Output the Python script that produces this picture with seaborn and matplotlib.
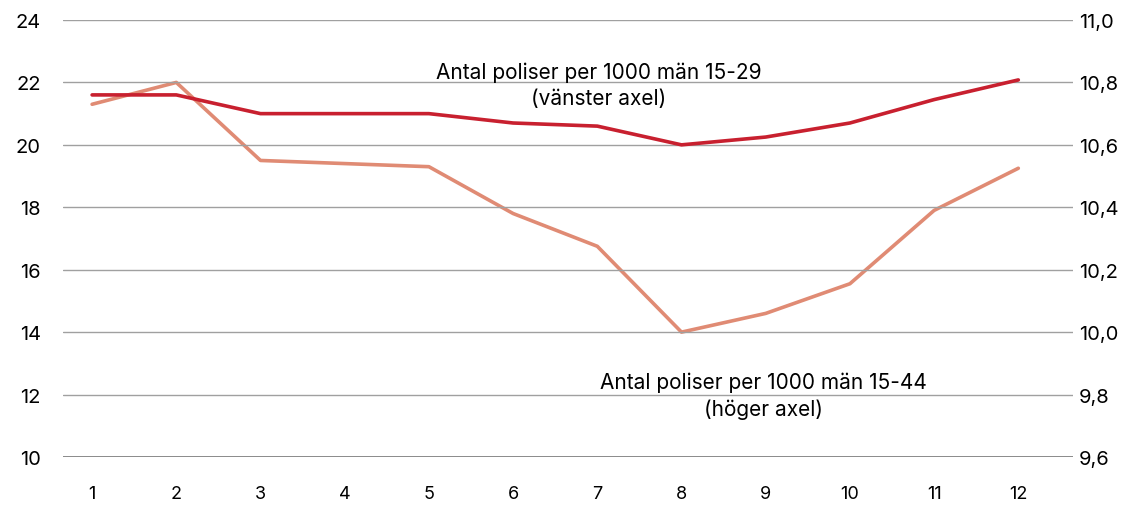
import numpy as np
import pandas as pd
import matplotlib
matplotlib.use('Agg')
import matplotlib.pyplot as plt
import seaborn as sns

# data
manader = list(range(1, 13))
poliser_15_29 = [21.6, 21.6, 21.0, 21.0, 21.0, 20.7, 20.6, 20.0, 20.25, 20.7, 21.45, 22.08]
poliser_15_44 = [10.73, 10.80, 10.55, 10.54, 10.53, 10.38, 10.275, 10.0, 10.06, 10.155, 10.39, 10.525]

vanster_ticks = [10, 12, 14, 16, 18, 20, 22, 24]
hoger_ticks = [9.6, 9.8, 10.0, 10.2, 10.4, 10.6, 10.8, 11.0]

sns.set_style('white')
plt.rcParams['font.family'] = ['Inter', 'DejaVu Sans']
plt.rcParams['text.color'] = 'black'

df = pd.DataFrame({'manad': manader, 'v': poliser_15_29, 'h': poliser_15_44})

fig = plt.figure(figsize=(11.3, 5.06), dpi=100)
ax = fig.add_axes([0.0558, 0.0949, 0.8938, 0.8636])
ax2 = ax.twinx()

# gridlines
for t in vanster_ticks:
    ax.axhline(t, color='#777777' if t == 10 else '#a0a0a0', lw=1.2 if t == 10 else 1.0, zorder=0)

sns.lineplot(data=df, x='manad', y='h', ax=ax2, color='#E08B74', lw=2.6)
sns.lineplot(data=df, x='manad', y='v', ax=ax, color='#C8202F', lw=2.6)
ax.set_zorder(ax2.get_zorder() + 1)
ax.patch.set_visible(False)

ax.set_xlim(0.655, 12.65)
ax.set_ylim(10, 24)
ax2.set_ylim(9.6, 11.0)
ax.set_xticks(manader)
ax.set_yticks(vanster_ticks)
ax2.set_yticks(hoger_ticks)
ax2.set_yticklabels([f'{t:.1f}'.replace('.', ',') for t in hoger_ticks])

for a in (ax, ax2):
    for s in a.spines.values():
        s.set_visible(False)
    a.set_xlabel('')
    a.set_ylabel('')
    a.tick_params(length=0, labelsize=14.5, colors='black')
ax.tick_params(axis='x', pad=20, labelsize=13)
ax.tick_params(axis='y', pad=16)
ax2.tick_params(axis='y', pad=4)

ax.text(7.02, 21.92, 'Antal poliser per 1000 män 15-29\n(vänster axel)', ha='center', va='center',
        fontsize=15, linespacing=1.35, color='black')
ax.text(8.97, 11.98, 'Antal poliser per 1000 män 15-44\n(höger axel)', ha='center', va='center',
        fontsize=15, linespacing=1.35, color='black')

fig.savefig('out.png', dpi=100)
